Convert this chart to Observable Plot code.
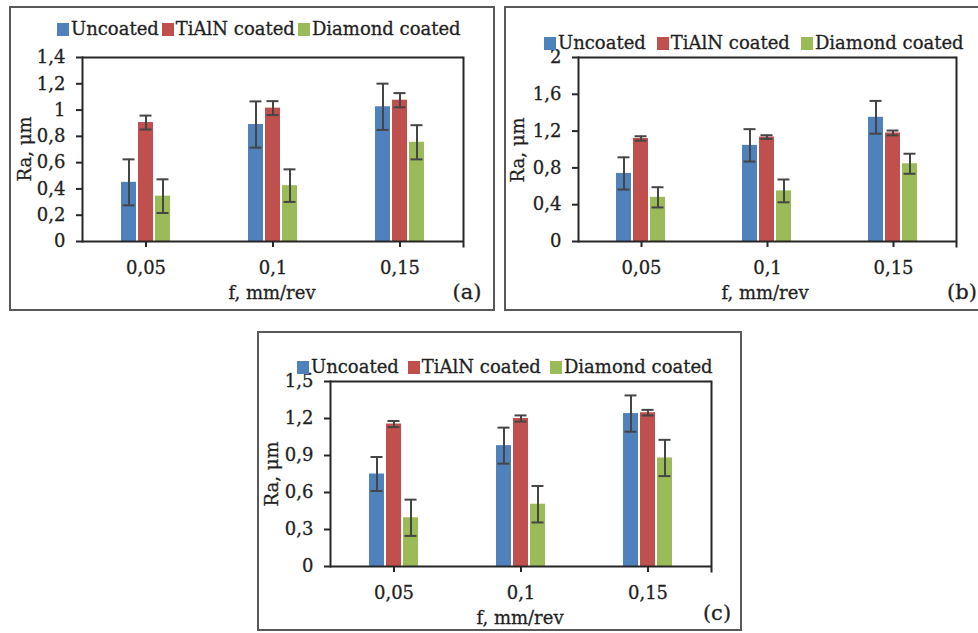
<!DOCTYPE html>
<html>
<head>
<meta charset="utf-8">
<script src="https://cdn.jsdelivr.net/npm/d3@7"></script>
<script src="https://cdn.jsdelivr.net/npm/@observablehq/plot@0.6"></script>
<style>
  html, body { margin: 0; padding: 0; background: #fff; }
  #page { position: relative; width: 978px; height: 633px; overflow: hidden; font-family: "DejaVu Serif", serif; color: #1f1f1f; }
  .border { position: absolute; box-sizing: border-box; border: 2px solid #595959; pointer-events: none; }
  .legend { position: absolute; display: flex; align-items: center; height: 18px; font-size: 18px; line-height: 18px; white-space: nowrap; -webkit-text-stroke: 0.3px #1f1f1f; }
  .sw { display: inline-block; width: 12px; height: 13px; }
  .lab { position: absolute; font-size: 18px; line-height: 18px; white-space: nowrap; transform: translate(-50%, -50%); -webkit-text-stroke: 0.3px #1f1f1f; }
  .ylab { position: absolute; font-size: 18px; line-height: 18px; white-space: nowrap; transform: translate(-50%, -50%) rotate(-90deg); -webkit-text-stroke: 0.3px #1f1f1f; }
  .tag { position: absolute; font-size: 21px; line-height: 21px; white-space: nowrap; transform: translate(-50%, -50%); -webkit-text-stroke: 0.3px #1f1f1f; }
  svg text { stroke: #1f1f1f; stroke-width: 0.3px; }
</style>
</head>
<body>
<div id="page"></div>
<script>
// ---------- data ----------
const feeds = ["0,05", "0,1", "0,15"];
const seriesNames = ["Uncoated", "TiAlN coated", "Diamond coated"];
const seriesColors = ["#4F81BD", "#C0504D", "#9BBB59"];

// panel (a)
const aUncoated = [0.45, 0.89, 1.025];
const aTiAlN = [0.905, 1.015, 1.075];
const aDiamond = [0.345, 0.425, 0.755];
const aUncoatedErr = [0.175, 0.176, 0.176];
const aTiAlNErr = [0.053, 0.053, 0.054];
const aDiamondErr = [0.128, 0.124, 0.13];
const aTicks = [0, 0.2, 0.4, 0.6, 0.8, 1, 1.2, 1.4];

// panel (b)
const bUncoated = [0.74, 1.045, 1.35];
const bTiAlN = [1.12, 1.135, 1.18];
const bDiamond = [0.48, 0.55, 0.845];
const bUncoatedErr = [0.175, 0.176, 0.178];
const bTiAlNErr = [0.024, 0.02, 0.026];
const bDiamondErr = [0.11, 0.124, 0.109];
const bTicks = [0, 0.4, 0.8, 1.2, 1.6, 2];

// panel (c)
const cUncoated = [0.75, 0.98, 1.24];
const cTiAlN = [1.155, 1.2, 1.247];
const cDiamond = [0.395, 0.505, 0.88];
const cUncoatedErr = [0.138, 0.146, 0.147];
const cTiAlNErr = [0.025, 0.025, 0.023];
const cDiamondErr = [0.147, 0.148, 0.147];
const cTicks = [0, 0.3, 0.6, 0.9, 1.2, 1.5];

const yLabel = "Ra, μm";
const xLabel = "f, mm/rev";

// ---------- layout ----------
const panels = [
  { tag: "(a)", values: [aUncoated, aTiAlN, aDiamond], errs: [aUncoatedErr, aTiAlNErr, aDiamondErr], ticks: aTicks,
    box: {left: 9, top: 6, w: 486, h: 305}, area: {x0: 82, x1: 463, y0: 57, y1: 241},
    legend: {left: 57, cy: 29, gapIn: 2, gapOut: 3}, ylab: {x: 25, y: 149}, xlab: {x: 272, y: 293}, tagPos: {x: 467, y: 292} },
  { tag: "(b)", values: [bUncoated, bTiAlN, bDiamond], errs: [bUncoatedErr, bTiAlNErr, bDiamondErr], ticks: bTicks,
    box: {left: 504, top: 6, w: 474, h: 305, bw: 484}, area: {x0: 577, x1: 957, y0: 57, y1: 241},
    legend: {left: 544, cy: 43, gapIn: 2, gapOut: 11}, ylab: {x: 518, y: 150}, xlab: {x: 765, y: 293}, tagPos: {x: 962, y: 292} },
  { tag: "(c)", values: [cUncoated, cTiAlN, cDiamond], errs: [cUncoatedErr, cTiAlNErr, cDiamondErr], ticks: cTicks,
    box: {left: 257, top: 331, w: 485, h: 300}, area: {x0: 329, x1: 711, y0: 381, y1: 566},
    legend: {left: 297, cy: 367, gapIn: 2, gapOut: 9}, ylab: {x: 272, y: 474}, xlab: {x: 520, y: 618}, tagPos: {x: 717, y: 613} }
];

const axisColor = "#262626";
const errColor = "#454545";
const fmt = d => String(d).replace(".", ",");
const page = document.getElementById("page");

function el(tag, cls, style, text) {
  const e = document.createElement(tag);
  if (cls) e.className = cls;
  Object.assign(e.style, style || {});
  if (text != null) e.textContent = text;
  return e;
}

for (const p of panels) {
  const rows = [];
  feeds.forEach((f, i) => seriesNames.forEach((s, j) => {
    rows.push({feed: f, series: s, value: p.values[j][i], err: p.errs[j][i]});
  }));
  const b = p.box, a = p.area;
  const yMax = p.ticks[p.ticks.length - 1];
  const lo = d => d.value - d.err, hi = d => d.value + d.err;

  const svg = Plot.plot({
    width: b.w, height: b.h,
    marginLeft: a.x0 - b.left, marginRight: b.left + b.w - a.x1,
    marginTop: a.y0 - b.top, marginBottom: b.top + b.h - a.y1,
    style: {fontFamily: "DejaVu Serif", fontSize: "18px", color: "#1f1f1f", background: "transparent", overflow: "visible"},
    fx: {domain: feeds, padding: 0, label: null},
    x: {domain: seriesNames, paddingInner: 0.11, paddingOuter: 2.2, axis: null},
    y: {domain: [0, yMax], label: null, axis: null},
    color: {domain: seriesNames, range: seriesColors},
    marks: [
      Plot.barY(rows, {fx: "feed", x: "series", y: "value", fill: "series"}),
      Plot.ruleX(rows, {fx: "feed", x: "series", y1: lo, y2: hi, stroke: errColor, strokeWidth: 2}),
      Plot.tickY(rows, {fx: "feed", x: "series", y: lo, stroke: errColor, strokeWidth: 2, insetLeft: 1.5, insetRight: 1.5}),
      Plot.tickY(rows, {fx: "feed", x: "series", y: hi, stroke: errColor, strokeWidth: 2, insetLeft: 1.5, insetRight: 1.5}),
      Plot.ruleY([0], {stroke: axisColor, strokeWidth: 2}),
      Plot.ruleY([yMax], {stroke: axisColor, strokeWidth: 2}),
      Plot.frame({anchor: "left", facetAnchor: "left", stroke: axisColor, strokeWidth: 2}),
      Plot.frame({anchor: "right", facetAnchor: "right", stroke: axisColor, strokeWidth: 2, insetBottom: -5}),
      Plot.axisY({ticks: p.ticks, tickFormat: fmt, tickSize: 6, tickPadding: 11, strokeWidth: 2, stroke: axisColor, label: null}),
      Plot.axisFx({anchor: "bottom", tickSize: 6, tickPadding: 14, strokeWidth: 2, stroke: axisColor, label: null})
    ]
  });
  svg.style.position = "absolute";
  svg.style.left = b.left + "px";
  svg.style.top = b.top + "px";
  page.appendChild(svg);

  page.appendChild(el("div", "border", {left: b.left + "px", top: b.top + "px", width: (b.bw || b.w) + "px", height: b.h + "px"}));

  const lg = el("div", "legend", {left: p.legend.left + "px", top: (p.legend.cy - 9) + "px"});
  seriesNames.forEach((s, j) => {
    lg.appendChild(el("span", "sw", {background: seriesColors[j], marginRight: p.legend.gapIn + "px"}));
    lg.appendChild(el("span", null, {marginRight: (j < seriesNames.length - 1 ? p.legend.gapOut : 0) + "px"}, s));
  });
  page.appendChild(lg);

  page.appendChild(el("div", "ylab", {left: p.ylab.x + "px", top: p.ylab.y + "px"}, yLabel));
  page.appendChild(el("div", "lab", {left: p.xlab.x + "px", top: p.xlab.y + "px"}, xLabel));
  page.appendChild(el("div", "tag", {left: p.tagPos.x + "px", top: p.tagPos.y + "px"}, p.tag));
}
</script>
</body>
</html>
